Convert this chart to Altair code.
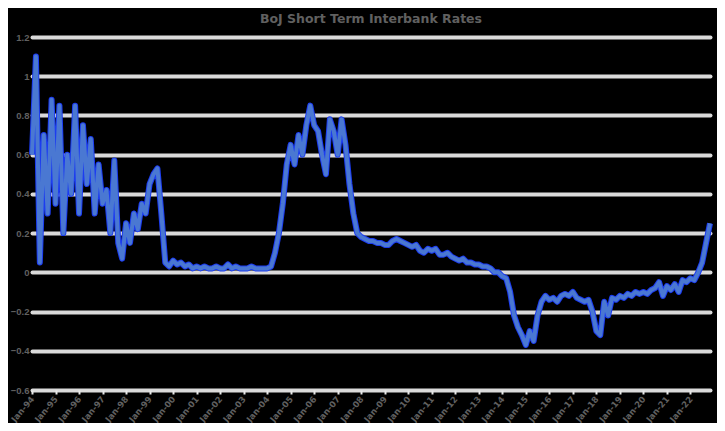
import altair as alt
import pandas as pd

values = [
    0.6, 1.1, 0.05, 0.7, 0.3, 0.88, 0.35, 0.85, 0.2, 0.6,
    0.4, 0.85, 0.3, 0.75, 0.45, 0.68, 0.3, 0.55, 0.35, 0.42,
    0.2, 0.57, 0.15, 0.07, 0.25, 0.15, 0.3, 0.22, 0.35, 0.3,
    0.45, 0.5, 0.53, 0.3, 0.05, 0.03,
    0.06, 0.04, 0.05, 0.03, 0.04, 0.02, 0.03, 0.02, 0.03, 0.02,
    0.02, 0.03, 0.02, 0.02, 0.04, 0.02, 0.03, 0.02, 0.02, 0.02,
    0.03, 0.02, 0.02, 0.02, 0.02,
    0.03, 0.1, 0.2, 0.35, 0.55, 0.65, 0.55, 0.7, 0.6, 0.75,
    0.85, 0.75, 0.72, 0.6, 0.5, 0.78, 0.72, 0.6, 0.78, 0.65,
    0.45, 0.3, 0.2, 0.18, 0.17, 0.16, 0.16, 0.15, 0.15, 0.14,
    0.14, 0.16, 0.17, 0.16, 0.15, 0.14, 0.13, 0.14, 0.11, 0.1,
    0.12, 0.11, 0.12, 0.09, 0.09, 0.1, 0.08, 0.07, 0.06, 0.07,
    0.05, 0.05, 0.04, 0.04, 0.03, 0.03, 0.02, 0.0, 0.0, -0.02,
    -0.03, -0.1, -0.22, -0.28, -0.32, -0.37, -0.3, -0.35, -0.22, -0.15,
    -0.12, -0.14, -0.13, -0.15, -0.12, -0.11, -0.12, -0.1, -0.13, -0.14,
    -0.15, -0.14, -0.2, -0.3, -0.32, -0.15, -0.22, -0.13, -0.14, -0.12,
    -0.13, -0.11, -0.12, -0.1, -0.11, -0.1, -0.11, -0.09, -0.08, -0.05,
    -0.12, -0.07, -0.09, -0.06, -0.1, -0.04, -0.05, -0.03, -0.04, 0.0,
    0.05, 0.15, 0.25,
]

tick_labels = [
    "Jan-94", "Jan-95", "Jan-96", "Jan-97", "Jan-98", "Jan-99", "Jan-00",
    "Jan-01", "Jan-02", "Jan-03", "Jan-04", "Jan-05", "Jan-06", "Jan-07",
    "Jan-08", "Jan-09", "Jan-10", "Jan-11", "Jan-12", "Jan-13", "Jan-14",
    "Jan-15", "Jan-16", "Jan-17", "Jan-18", "Jan-19", "Jan-20", "Jan-21",
    "Jan-22",
]
y_ticks = [-0.6, -0.4, -0.2, 0, 0.2, 0.4, 0.6, 0.8, 1.0, 1.2]

df = pd.DataFrame({"m": list(range(0, 2 * len(values), 2)), "v": values})

label_expr = "[" + ",".join(f"'{t}'" for t in tick_labels) + "][round(datum.value/12)]"
FONT = "DejaVu Sans"
YFONT = "Liberation Sans"
GREY = "#606060"

x_enc = alt.X(
    "m:Q",
    scale=alt.Scale(domain=[0, int(df["m"].max())], nice=False, zero=False),
    axis=alt.Axis(
        values=[12 * k for k in range(len(tick_labels))],
        labelExpr=label_expr,
        labelAngle=-50,
        labelAlign="right",
        labelBaseline="middle",
        labelColor=GREY,
        labelFont=FONT,
        labelFontSize=8.5,
        labelFontWeight="bold",
        labelPadding=3,
        labelOverlap=False,
        tickColor="#e8e8e8",
        tickSize=4,
        tickWidth=2,
        domain=False,
        grid=False,
        title=None,
    ),
)
y_enc = alt.Y(
    "v:Q",
    scale=alt.Scale(domain=[-0.6, 1.2], nice=False, zero=False),
    axis=alt.Axis(
        values=y_ticks,
        labelExpr="format(datum.value, '.1~f')",
        labelColor=GREY,
        labelFont=YFONT,
        labelFontSize=9.5,
        labelFontWeight="bold",
        labelPadding=3,
        grid=True,
        gridColor="#dadada",
        gridWidth=4,
        gridCap="round",
        domain=False,
        ticks=False,
        title=None,
    ),
)

base = alt.Chart(df)
outer = base.mark_line(color="#1c3cf0", strokeWidth=6, strokeJoin="round").encode(x=x_enc, y=y_enc)
inner = base.mark_line(color="#4a78d2", strokeWidth=4, strokeJoin="round").encode(x=x_enc, y=y_enc)

chart = (
    alt.layer(outer, inner)
    .properties(
        width=678,
        height=353,
        autosize=alt.AutoSizeParams(type="none"),
        padding={"left": 24, "top": 29, "right": 7, "bottom": 33},
        background="black",
        title=alt.TitleParams(
            "BoJ Short Term Interbank Rates",
            color=GREY,
            font=FONT,
            fontSize=12.5,
            fontWeight="bold",
            anchor="middle",
            offset=7,
        ),
    )
    .configure_view(stroke=None)
)

chart.save("out.html", embed_options={"renderer": "svg", "actions": False})
